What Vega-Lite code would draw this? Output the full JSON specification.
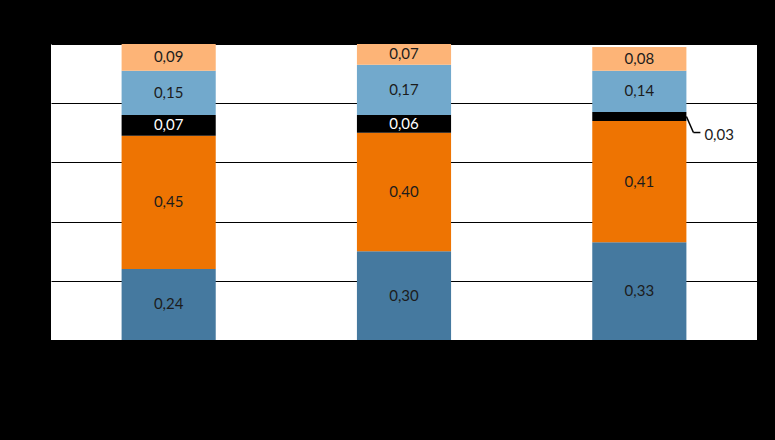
{
  "$schema": "https://vega.github.io/schema/vega-lite/v6.json",
  "width": 706,
  "height": 296,
  "autosize": {"type": "none"},
  "padding": {"left": 51, "top": 44, "right": 18, "bottom": 100},
  "background": "black",
  "view": {"fill": "white", "stroke": null},
  "data": {
    "values": [
      {"cat": "A", "series": "S1", "order": 1, "value": 0.24},
      {"cat": "A", "series": "S2", "order": 2, "value": 0.45},
      {"cat": "A", "series": "S3", "order": 3, "value": 0.07},
      {"cat": "A", "series": "S4", "order": 4, "value": 0.15},
      {"cat": "A", "series": "S5", "order": 5, "value": 0.09},
      {"cat": "B", "series": "S1", "order": 1, "value": 0.30},
      {"cat": "B", "series": "S2", "order": 2, "value": 0.40},
      {"cat": "B", "series": "S3", "order": 3, "value": 0.06},
      {"cat": "B", "series": "S4", "order": 4, "value": 0.17},
      {"cat": "B", "series": "S5", "order": 5, "value": 0.07},
      {"cat": "C", "series": "S1", "order": 1, "value": 0.33},
      {"cat": "C", "series": "S2", "order": 2, "value": 0.41},
      {"cat": "C", "series": "S3", "order": 3, "value": 0.03},
      {"cat": "C", "series": "S4", "order": 4, "value": 0.14},
      {"cat": "C", "series": "S5", "order": 5, "value": 0.08}
    ]
  },
  "transform": [
    {"stack": "value", "groupby": ["cat"], "sort": [{"field": "order", "order": "ascending"}], "as": ["y0", "y1"]},
    {"calculate": "(datum.y0 + datum.y1) / 2", "as": "mid"},
    {"calculate": "replace(format(datum.value, '.2f'), '.', ',')", "as": "label"}
  ],
  "encoding": {
    "x": {
      "field": "cat", "type": "nominal", "title": null,
      "scale": {"paddingInner": 0.6, "paddingOuter": 0.3},
      "axis": {"labels": false, "ticks": false, "domain": false, "grid": false}
    }
  },
  "layer": [
    {
      "mark": {"type": "bar"},
      "encoding": {
        "y": {
          "field": "y0", "type": "quantitative", "title": null,
          "scale": {"domain": [0, 1], "nice": false},
          "axis": {"values": [0, 0.2, 0.4, 0.6, 0.8, 1], "labels": false, "ticks": false, "domain": false, "grid": true, "gridColor": "black", "gridOpacity": 1, "gridWidth": 1}
        },
        "y2": {"field": "y1"},
        "color": {
          "field": "series", "type": "nominal", "legend": null,
          "scale": {"domain": ["S1", "S2", "S3", "S4", "S5"], "range": ["#45799F", "#EE7402", "#000000", "#72A9CC", "#FDB477"]}
        }
      }
    },
    {
      "transform": [{"filter": "!(datum.cat == 'C' && datum.series == 'S3')"}],
      "mark": {"type": "text", "font": "Lato", "fontSize": 15, "baseline": "middle", "align": "center"},
      "encoding": {
        "y": {"field": "mid", "type": "quantitative"},
        "text": {"field": "label"},
        "color": {"condition": {"test": "datum.series == 'S3'", "value": "white"}, "value": "#1c1c1c"}
      }
    },
    {
      "transform": [{"filter": "datum.cat == 'C' && datum.series == 'S3'"}],
      "mark": {"type": "text", "font": "Lato", "fontSize": 15, "baseline": "middle", "align": "left", "dx": 18, "dy": 18, "color": "#1c1c1c"},
      "encoding": {
        "x": {"field": "cat", "type": "nominal", "bandPosition": 1},
        "y": {"field": "mid", "type": "quantitative"},
        "text": {"field": "label"}
      }
    },
    {
      "transform": [{"filter": "datum.cat == 'C' && datum.series == 'S3'"}],
      "mark": {"type": "rule", "color": "black", "strokeWidth": 1.5, "x2Offset": 7, "y2Offset": 16},
      "encoding": {
        "x": {"field": "cat", "type": "nominal", "bandPosition": 1},
        "x2": {"field": "cat", "bandPosition": 1},
        "y": {"field": "mid", "type": "quantitative"},
        "y2": {"field": "mid"}
      }
    },
    {
      "transform": [{"filter": "datum.cat == 'C' && datum.series == 'S3'"}],
      "mark": {"type": "rule", "color": "black", "strokeWidth": 1.5, "xOffset": 7, "x2Offset": 14, "yOffset": 16, "y2Offset": 16},
      "encoding": {
        "x": {"field": "cat", "type": "nominal", "bandPosition": 1},
        "x2": {"field": "cat", "bandPosition": 1},
        "y": {"field": "mid", "type": "quantitative"},
        "y2": {"field": "mid"}
      }
    }
  ]
}
